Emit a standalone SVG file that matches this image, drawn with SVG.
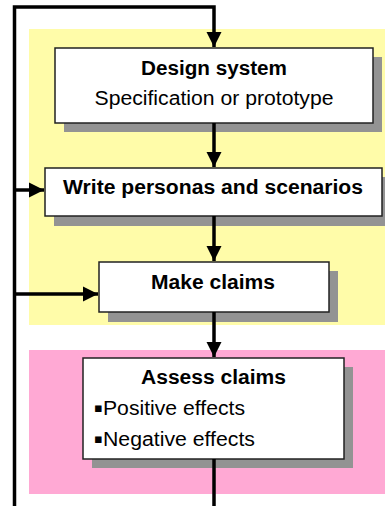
<svg xmlns="http://www.w3.org/2000/svg" width="385" height="506" viewBox="0 0 385 506">
  <style>
    .box { fill: #ffffff; stroke: #222222; stroke-width: 1.5; }
    .shadow { fill: #939393; }
    .title { font-family: "Liberation Sans", Arial, sans-serif; font-weight: bold; font-size: 20px; fill: #000; }
    .body { font-family: "Liberation Sans", Arial, sans-serif; font-size: 20px; fill: #000; }
    .bullet { font-family: "DejaVu Sans", sans-serif; font-size: 13px; }
    .line { stroke: #000; stroke-width: 3.5; fill: none; }
  </style>
  <defs>
    <marker id="arrow" markerUnits="userSpaceOnUse" markerWidth="16" markerHeight="16" refX="15" refY="8" orient="auto">
      <path d="M0,0.5 L15,8 L0,15.5 Z" fill="#000"/>
    </marker>
  </defs>

  <!-- background bands -->
  <rect x="29" y="29" width="356" height="296" fill="#fffca9"/>
  <rect x="29" y="350" width="356" height="144" fill="#ffa9d4"/>

  <g id="design-system">
    <rect class="shadow" x="64" y="57" width="318" height="75"/>
    <rect class="box" x="55" y="48" width="318" height="75"/>
    <text class="title" x="214" y="75" text-anchor="middle" textLength="146" lengthAdjust="spacingAndGlyphs">Design system</text>
    <text class="body" x="214" y="105" text-anchor="middle" textLength="239" lengthAdjust="spacingAndGlyphs">Specification or prototype</text>
  </g>

  <g id="write-personas">
    <rect class="shadow" x="54" y="177" width="337" height="49"/>
    <rect class="box" x="45" y="168" width="337" height="48"/>
    <text class="title" x="213" y="194" text-anchor="middle" textLength="300" lengthAdjust="spacingAndGlyphs">Write personas and scenarios</text>
  </g>

  <g id="make-claims">
    <rect class="shadow" x="108" y="271" width="230" height="51"/>
    <rect class="box" x="99" y="262" width="230" height="50"/>
    <text class="title" x="213" y="289" text-anchor="middle" textLength="124" lengthAdjust="spacingAndGlyphs">Make claims</text>
  </g>

  <g id="assess-claims">
    <rect class="shadow" x="92" y="367" width="261" height="101"/>
    <rect class="box" x="83" y="358" width="261" height="101"/>
    <text class="title" x="213.5" y="384" text-anchor="middle" textLength="145" lengthAdjust="spacingAndGlyphs">Assess claims</text>
    <text class="body" x="94" y="415"><tspan class="bullet" dy="-3">▪</tspan><tspan x="103" dy="3" textLength="142" lengthAdjust="spacingAndGlyphs">Positive effects</tspan></text>
    <text class="body" x="94" y="446"><tspan class="bullet" dy="-3">▪</tspan><tspan x="103" dy="3" textLength="152" lengthAdjust="spacingAndGlyphs">Negative effects</tspan></text>
  </g>

  <g id="connectors">
    <path class="line" d="M14.5,506 V7 H214 V47" marker-end="url(#arrow)"/>
    <path class="line" d="M214,123 V167" marker-end="url(#arrow)"/>
    <path class="line" d="M214,216 V261" marker-end="url(#arrow)"/>
    <path class="line" d="M214,312 V357" marker-end="url(#arrow)"/>
    <path class="line" d="M214,459 V506"/>
    <path class="line" d="M14.5,190 H44" marker-end="url(#arrow)"/>
    <path class="line" d="M14.5,294 H98" marker-end="url(#arrow)"/>
  </g>
</svg>
